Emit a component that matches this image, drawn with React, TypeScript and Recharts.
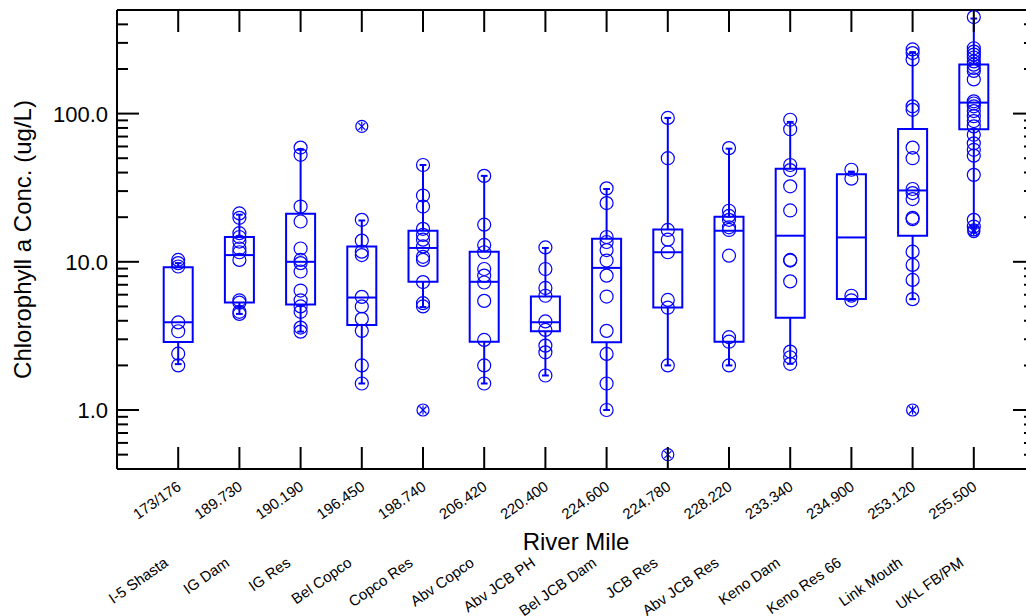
import React from 'react';
import { ComposedChart, XAxis, YAxis, Scatter, ReferenceArea, ReferenceLine, Label } from 'recharts';

// ---- data ----
const riverMiles = ['173/176', '189.730', '190.190', '196.450', '198.740', '206.420', '220.400', '224.600', '224.780', '228.220', '233.340', '234.900', '253.120', '255.500'];
const siteNames = ['I-5 Shasta', 'IG Dam', 'IG Res', 'Bel Copco', 'Copco Res', 'Abv Copco', 'Abv JCB PH', 'Bel JCB Dam', 'JCB Res', 'Abv JCB Res', 'Keno Dam', 'Keno Res 66', 'Link Mouth', 'UKL FB/PM'];

const q1 = [2.88, 5.31, 5.15, 3.75, 7.33, 2.89, 3.4, 2.87, 4.91, 2.89, 4.2, 5.62, 15.0, 78.3];
const median = [3.91, 11.1, 10.0, 5.74, 12.4, 7.33, 3.91, 9.1, 11.6, 16.2, 15.0, 14.6, 30.3, 118.6];
const q3 = [9.2, 14.7, 21.1, 12.7, 16.2, 11.7, 5.83, 14.3, 16.5, 20.1, 42.5, 38.9, 78.7, 214];
const whiskerLow = [2.04, 4.45, 3.38, 1.51, 4.95, 1.51, 1.71, 1.0, 2.0, 2.0, 2.05, 5.5, 5.6, 17.0];
const whiskerHigh = [9.8, 20.8, 57, 19.0, 45, 38, 12.4, 31, 93.5, 58, 87.9, 40.6, 260, 438];

const samples: number[][] = [
  [10.3, 9.8, 9.3, 3.9, 3.4, 2.4, 2.0],
  [21.2, 19.8, 15.6, 14.7, 13.7, 12.3, 11.6, 10.3, 5.5, 5.3, 4.6, 4.45],
  [59, 52.7, 23.6, 18.7, 12.3, 10.3, 9.8, 8.6, 6.4, 5.5, 5.0, 4.6, 3.6, 3.38],
  [19.2, 13.9, 11.7, 11.1, 5.8, 5.0, 4.12, 3.42, 2.0, 1.51],
  [45, 28, 23.6, 16.7, 15.2, 14.1, 12.7, 10.8, 10.3, 7.3, 5.26, 5.0],
  [38, 17.8, 13.0, 11.6, 8.94, 8.07, 7.25, 5.45, 2.97, 2.0, 1.51],
  [12.5, 8.94, 6.66, 5.9, 3.96, 3.47, 2.72, 2.45, 1.71],
  [31.3, 24.9, 14.7, 13.6, 12.0, 10.2, 8.07, 5.83, 3.42, 2.39, 1.51, 1.0],
  [93.5, 50, 16.4, 14.1, 11.6, 5.53, 4.9, 2.0],
  [58.5, 22.1, 20.4, 19.2, 17.1, 16.4, 11.0, 3.1, 2.89, 2.0],
  [90.9, 78.4, 45, 41.6, 32.3, 22.2, 10.3, 10.2, 7.38, 2.48, 2.27, 2.05],
  [41.8, 36.4, 5.9, 5.5],
  [271, 256, 232, 112, 106, 59, 50, 31, 29.1, 26.5, 19.8, 19.4, 11.7, 9.53, 7.55, 5.6],
  [448, 276, 262, 250, 239, 225, 214, 203, 194, 170, 121, 117, 112, 104, 96, 89, 82, 72, 63, 57, 52, 38.6, 19.2, 17.3],
];
const outliers: number[][] = [[], [], [], [82], [1.0], [], [], [], [0.5], [], [], [], [1.0], [16.4, 16.0]];

const yTicks = [0.5, 0.6, 0.7, 0.8, 0.9, 1, 2, 3, 4, 5, 6, 7, 8, 9, 10, 20, 30, 40, 50, 60, 70, 80, 90, 100, 200, 300, 400];
const yMajor = [1, 10, 100];
const xTicks = [0, 1, 2, 3, 4, 5, 6, 7, 8, 9, 10, 11, 12, 13];

// ---- styles ----
const BLUE = '#0000ff';
const FONT = "'Liberation Sans', Arial, sans-serif";
const BOX_HALF = 0.237;
const CAP_HALF = 0.055;
const LABEL_ANGLE = -35;

const LeftTick = (props: any) => {
  const { x, y, payload } = props;
  const major = yMajor.includes(payload.value);
  return (
    <g>
      <line x1={x} x2={x + (major ? 22 : 11)} y1={y} y2={y} stroke="#000" strokeWidth={2} />
      {major && (
        <text x={x - 9} y={y} dy="0.36em" textAnchor="end" fontSize={22} fontFamily={FONT} fill="#000">
          {Number(payload.value).toFixed(1)}
        </text>
      )}
    </g>
  );
};

const RightTick = (props: any) => {
  const { x, y, payload } = props;
  const major = yMajor.includes(payload.value);
  return <line x1={x} x2={x - (major ? 22 : 11)} y1={y} y2={y} stroke="#000" strokeWidth={2} />;
};

const BottomTick = (props: any) => {
  const { x, y, payload } = props;
  const i = payload.value as number;
  const lx = x + 4;
  const ly = y + 20;
  const nx = x - 9;
  const ny = y + 96;
  return (
    <g>
      <line x1={x} x2={x} y1={y} y2={y - 22} stroke="#000" strokeWidth={2} />
      <text x={lx} y={ly} textAnchor="end" fontSize={15} fontFamily={FONT} fill="#000" transform={`rotate(${LABEL_ANGLE} ${lx} ${ly})`}>
        {riverMiles[i]}
      </text>
      <text x={nx} y={ny} textAnchor="end" fontSize={15} fontFamily={FONT} fill="#000" transform={`rotate(${LABEL_ANGLE} ${nx} ${ny})`}>
        {siteNames[i]}
      </text>
    </g>
  );
};

const TopTick = (props: any) => {
  const { x, y } = props;
  return <line x1={x} x2={x} y1={y} y2={y + 22} stroke="#000" strokeWidth={2} />;
};

const YTitle = (props: any) => {
  const vb = props.viewBox;
  const tx = vb.x + 31;
  const ty = vb.y + vb.height / 2;
  return (
    <text x={tx} y={ty} textAnchor="middle" fontSize={24} fontFamily={FONT} fill="#000" transform={`rotate(-90 ${tx} ${ty})`}>
      Chlorophyll a Conc. (ug/L)
    </text>
  );
};

const XTitle = (props: any) => {
  const vb = props.viewBox;
  return (
    <text x={vb.x + vb.width / 2} y={vb.y + 81} textAnchor="middle" fontSize={24} fontFamily={FONT} fill="#000">
      River Mile
    </text>
  );
};

const CircleShape = (props: any) => {
  const { cx, cy } = props;
  return <circle cx={cx} cy={cy} r={6.5} fill="none" stroke={BLUE} strokeWidth={1.2} />;
};

const OutlierShape = (props: any) => {
  const { cx, cy } = props;
  return (
    <g stroke={BLUE} strokeWidth={1.2} fill="none">
      <circle cx={cx} cy={cy} r={6} />
      <line x1={cx - 3.5} y1={cy - 3.5} x2={cx + 3.5} y2={cy + 3.5} />
      <line x1={cx - 3.5} y1={cy + 3.5} x2={cx + 3.5} y2={cy - 3.5} />
      <line x1={cx} y1={cy - 4.5} x2={cx} y2={cy + 4.5} />
    </g>
  );
};

export default function App() {
  const points = samples.flatMap((arr, i) => arr.map((v) => ({ x: i, y: v })));
  const outPoints = outliers.flatMap((arr, i) => arr.map((v) => ({ x: i, y: v })));

  const boxes: React.ReactNode[] = [];
  riverMiles.forEach((_, i) => {
    boxes.push(
      <ReferenceLine key={`wl${i}`} segment={[{ x: i, y: whiskerLow[i] }, { x: i, y: q1[i] }]} stroke={BLUE} strokeWidth={2} />,
      <ReferenceLine key={`wh${i}`} segment={[{ x: i, y: q3[i] }, { x: i, y: whiskerHigh[i] }]} stroke={BLUE} strokeWidth={2} />,
      <ReferenceLine key={`cl${i}`} segment={[{ x: i - CAP_HALF, y: whiskerLow[i] }, { x: i + CAP_HALF, y: whiskerLow[i] }]} stroke={BLUE} strokeWidth={2} />,
      <ReferenceLine key={`ch${i}`} segment={[{ x: i - CAP_HALF, y: whiskerHigh[i] }, { x: i + CAP_HALF, y: whiskerHigh[i] }]} stroke={BLUE} strokeWidth={2} />,
      <ReferenceArea key={`bx${i}`} x1={i - BOX_HALF} x2={i + BOX_HALF} y1={q1[i]} y2={q3[i]} fill="none" fillOpacity={0} stroke={BLUE} strokeWidth={2} strokeOpacity={1} />,
      <ReferenceLine key={`md${i}`} segment={[{ x: i - BOX_HALF, y: median[i] }, { x: i + BOX_HALF, y: median[i] }]} stroke={BLUE} strokeWidth={2} />
    );
  });

  return (
    <div style={{ position: 'absolute', left: 0, top: 0, width: 1026, height: 616, overflow: 'hidden', background: '#fff' }}>
      <ComposedChart width={1060} height={616} margin={{ top: 9, right: 24, bottom: 0, left: 0 }}>
        <XAxis
          dataKey="x"
          type="number"
          domain={[-1, 14]}
          ticks={xTicks}
          interval={0}
          height={147}
          tickSize={0}
          tickMargin={0}
          tickLine={false}
          axisLine={{ stroke: '#000', strokeWidth: 2 }}
          tick={<BottomTick />}
          allowDataOverflow
        >
          <Label content={<XTitle />} />
        </XAxis>
        <XAxis
          xAxisId="top"
          dataKey="x"
          type="number"
          orientation="top"
          domain={[-1, 14]}
          ticks={xTicks}
          interval={0}
          height={1}
          tickSize={0}
          tickMargin={0}
          tickLine={false}
          axisLine={{ stroke: '#000', strokeWidth: 2 }}
          tick={<TopTick />}
          allowDataOverflow
        />
        <YAxis
          type="number"
          scale="log"
          domain={[0.4, 500]}
          ticks={yTicks}
          interval={0}
          width={117}
          tickSize={0}
          tickMargin={0}
          tickLine={false}
          axisLine={{ stroke: '#000', strokeWidth: 2 }}
          tick={<LeftTick />}
          allowDataOverflow
        >
          <Label content={<YTitle />} />
        </YAxis>
        <YAxis
          yAxisId="right"
          orientation="right"
          type="number"
          scale="log"
          domain={[0.4, 500]}
          ticks={yTicks}
          interval={0}
          width={1}
          tickSize={0}
          tickMargin={0}
          tickLine={false}
          axisLine={{ stroke: '#000', strokeWidth: 2 }}
          tick={<RightTick />}
          allowDataOverflow
        />
        {boxes}
        <Scatter data={points} dataKey="y" shape={<CircleShape />} isAnimationActive={false} />
        <Scatter data={outPoints} dataKey="y" shape={<OutlierShape />} isAnimationActive={false} />
      </ComposedChart>
    </div>
  );
}
